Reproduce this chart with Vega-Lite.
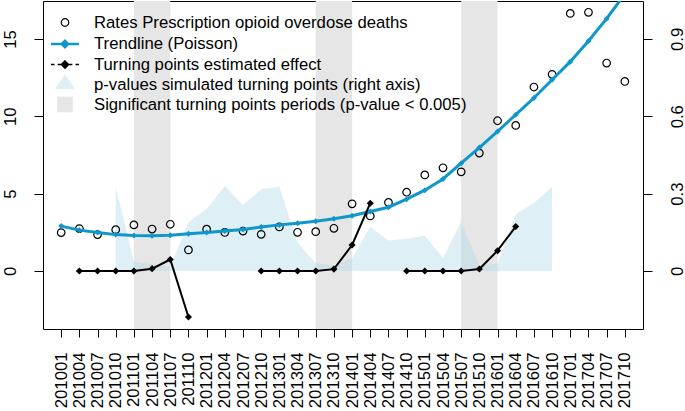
{
  "$schema": "https://vega.github.io/schema/vega-lite/v6.json",
  "width": 600,
  "height": 328,
  "autosize": "none",
  "padding": {"left": 43, "top": 1, "right": 42, "bottom": 82},
  "config": {
    "view": {"stroke": "#000", "strokeWidth": 1},
    "font": "Liberation Sans",
    "axis": {"grid": false, "domain": false, "tickColor": "#000", "labelColor": "#000", "labelFont": "Liberation Sans", "labelFontSize": 16.7, "tickSize": 9},
    "legend": {"title": null, "orient": "top-left", "offset": 10, "padding": 0, "symbolSize": 441, "labelFontSize": 16.7, "labelFont": "Liberation Sans", "labelColor": "#000", "labelOffset": 17, "labelLimit": 0, "rowPadding": 0}
  },
  "datasets": {
    "rates": [
      {"period": "201001", "rate": 2.48, "trend": 2.9},
      {"period": "201004", "rate": 2.74, "trend": 2.64},
      {"period": "201007", "rate": 2.35, "trend": 2.49},
      {"period": "201010", "rate": 2.67, "trend": 2.35},
      {"period": "201101", "rate": 2.98, "trend": 2.29},
      {"period": "201104", "rate": 2.71, "trend": 2.28},
      {"period": "201107", "rate": 3.02, "trend": 2.31},
      {"period": "201110", "rate": 1.36, "trend": 2.4},
      {"period": "201201", "rate": 2.7, "trend": 2.48},
      {"period": "201204", "rate": 2.49, "trend": 2.59},
      {"period": "201207", "rate": 2.58, "trend": 2.68},
      {"period": "201210", "rate": 2.37, "trend": 2.84},
      {"period": "201301", "rate": 2.85, "trend": 2.98},
      {"period": "201304", "rate": 2.5, "trend": 3.08},
      {"period": "201307", "rate": 2.54, "trend": 3.22},
      {"period": "201310", "rate": 2.76, "trend": 3.37},
      {"period": "201401", "rate": 4.34, "trend": 3.57},
      {"period": "201404", "rate": 3.56, "trend": 3.84},
      {"period": "201407", "rate": 4.43, "trend": 4.12},
      {"period": "201410", "rate": 5.09, "trend": 4.64},
      {"period": "201501", "rate": 6.21, "trend": 5.22},
      {"period": "201504", "rate": 6.67, "trend": 5.95},
      {"period": "201507", "rate": 6.41, "trend": 6.97},
      {"period": "201510", "rate": 7.62, "trend": 7.98},
      {"period": "201601", "rate": 9.71, "trend": 9.02},
      {"period": "201604", "rate": 9.41, "trend": 10.1},
      {"period": "201607", "rate": 11.89, "trend": 11.18},
      {"period": "201610", "rate": 12.71, "trend": 12.36},
      {"period": "201701", "rate": 16.65, "trend": 13.53},
      {"period": "201704", "rate": 16.72, "trend": 14.87},
      {"period": "201707", "rate": 13.44, "trend": 16.31},
      {"period": "201710", "rate": 12.25, "trend": 17.9}
    ],
    "effects": [
      {"period": "201004", "seg": 1, "effect": 0},
      {"period": "201007", "seg": 1, "effect": 0},
      {"period": "201010", "seg": 1, "effect": 0},
      {"period": "201101", "seg": 1, "effect": 0},
      {"period": "201104", "seg": 1, "effect": 0.15},
      {"period": "201107", "seg": 1, "effect": 0.74},
      {"period": "201110", "seg": 1, "effect": -2.97},
      {"period": "201210", "seg": 2, "effect": 0},
      {"period": "201301", "seg": 2, "effect": 0},
      {"period": "201304", "seg": 2, "effect": 0},
      {"period": "201307", "seg": 2, "effect": 0},
      {"period": "201310", "seg": 2, "effect": 0.12},
      {"period": "201401", "seg": 2, "effect": 1.68},
      {"period": "201404", "seg": 2, "effect": 4.38},
      {"period": "201410", "seg": 3, "effect": 0},
      {"period": "201501", "seg": 3, "effect": 0},
      {"period": "201504", "seg": 3, "effect": 0},
      {"period": "201507", "seg": 3, "effect": 0},
      {"period": "201510", "seg": 3, "effect": 0.13},
      {"period": "201601", "seg": 3, "effect": 1.31},
      {"period": "201604", "seg": 3, "effect": 2.87}
    ],
    "pvals": [
      {"period": "201010", "p": 0.327},
      {"period": "201101", "p": 0.036},
      {"period": "201104", "p": 0.025},
      {"period": "201107", "p": 0.015},
      {"period": "201110", "p": 0.19},
      {"period": "201201", "p": 0.24},
      {"period": "201204", "p": 0.33},
      {"period": "201207", "p": 0.256},
      {"period": "201210", "p": 0.317},
      {"period": "201301", "p": 0.327},
      {"period": "201304", "p": 0.11},
      {"period": "201307", "p": 0.03},
      {"period": "201310", "p": 0.02},
      {"period": "201401", "p": 0.049},
      {"period": "201404", "p": 0.172},
      {"period": "201407", "p": 0.118},
      {"period": "201410", "p": 0.125},
      {"period": "201501", "p": 0.137},
      {"period": "201504", "p": 0.05},
      {"period": "201507", "p": 0.191},
      {"period": "201510", "p": 0.02},
      {"period": "201601", "p": 0.028},
      {"period": "201604", "p": 0.22},
      {"period": "201607", "p": 0.264},
      {"period": "201610", "p": 0.327}
    ],
    "bands": [
      {"period": "201101", "end": "201107"},
      {"period": "201307", "end": "201401"},
      {"period": "201507", "end": "201601"}
    ]
  },
  "encoding": {
    "x": {
      "field": "period",
      "type": "ordinal",
      "title": null,
      "scale": {
        "type": "point",
        "padding": 1.23,
        "domain": ["201001","201004","201007","201010","201101","201104","201107","201110","201201","201204","201207","201210","201301","201304","201307","201310","201401","201404","201407","201410","201501","201504","201507","201510","201601","201604","201607","201610","201701","201704","201707","201710"]
      },
      "axis": {"labelAngle": -90, "tickSize": 8, "labelPadding": 15, "labelOverlap": false, "labelBound": false, "title": null}
    }
  },
  "layer": [
    {
      "data": {"name": "bands"},
      "mark": {"type": "rect", "color": "#E6E6E6"},
      "encoding": {"x2": {"field": "end"}}
    },
    {
      "data": {"name": "pvals"},
      "mark": {"type": "area", "color": "#ADD8E6", "opacity": 0.4},
      "encoding": {
        "y": {
          "field": "p",
          "type": "quantitative",
          "title": null,
          "scale": {"domain": [-0.225, 1.047], "zero": false, "nice": false},
          "axis": {"orient": "right", "values": [0, 0.3, 0.6, 0.9], "format": "~g", "labelAngle": -90, "labelAlign": "center", "labelBaseline": "alphabetic", "tickSize": 9, "labelPadding": 30, "title": null}
        },
        "y2": {"datum": 0}
      }
    },
    {
      "layer": [
        {
          "data": {"name": "rates"},
          "mark": {"type": "point", "filled": true, "size": 441, "opacity": 1},
          "encoding": {
            "y": {
              "field": "rate",
              "type": "quantitative",
              "title": null,
              "scale": {"domain": [-3.75, 17.45], "zero": false, "nice": false},
              "axis": {"orient": "left", "values": [0, 5, 10, 15], "labelAngle": -90, "labelAlign": "center", "labelBaseline": "alphabetic", "tickSize": 9, "labelPadding": 19, "title": null}
            },
            "shape": {
              "datum": "Rates Prescription opioid overdose deaths",
              "type": "nominal",
              "title": null,
              "scale": {
                "domain": ["Rates Prescription opioid overdose deaths", "Trendline (Poisson)", "Turning points estimated effect", "p-values simulated turning points (right axis)", "Significant turning points periods (p-value < 0.005)"],
                "range": [
                  "M-0.36,0A0.36,0.36,0,1,1,0.36,0A0.36,0.36,0,1,1,-0.36,0Z",
                  "M-1.33,0L1.33,0M0,-0.3L0.3,0L0,0.3L-0.3,0Z",
                  "M-1.33,0L-1,0M-0.7,0L-0.38,0M0.38,0L0.7,0M1,0L1.33,0M0,-0.34L0.34,0L0,0.34L-0.34,0Z",
                  "M0,-1L0.95,0.42L-0.95,0.42Z",
                  "M-0.74,-0.74L0.74,-0.74L0.74,0.74L-0.74,0.74Z"
                ]
              }
            },
            "fill": {
              "datum": "Rates Prescription opioid overdose deaths",
              "type": "nominal",
              "title": null,
              "scale": {
                "domain": ["Rates Prescription opioid overdose deaths", "Trendline (Poisson)", "Turning points estimated effect", "p-values simulated turning points (right axis)", "Significant turning points periods (p-value < 0.005)"],
                "range": ["transparent", "#0E97CB", "#000000", "#DEEFF5", "#E6E6E6"]
              }
            },
            "stroke": {
              "datum": "Rates Prescription opioid overdose deaths",
              "type": "nominal",
              "title": null,
              "scale": {
                "domain": ["Rates Prescription opioid overdose deaths", "Trendline (Poisson)", "Turning points estimated effect", "p-values simulated turning points (right axis)", "Significant turning points periods (p-value < 0.005)"],
                "range": ["#000000", "#0E97CB", "#000000", "transparent", "transparent"]
              }
            },
            "strokeWidth": {
              "datum": "Rates Prescription opioid overdose deaths",
              "type": "nominal",
              "title": null,
              "scale": {
                "type": "ordinal",
                "domain": ["Rates Prescription opioid overdose deaths", "Trendline (Poisson)", "Turning points estimated effect", "p-values simulated turning points (right axis)", "Significant turning points periods (p-value < 0.005)"],
                "range": [1.2, 2.5, 1.5, 0, 0]
              }
            }
          }
        },
        {
          "data": {"name": "rates"},
          "mark": {"type": "line", "color": "#0E97CB", "strokeWidth": 3, "clip": true},
          "encoding": {"y": {"field": "trend", "type": "quantitative", "title": null}}
        },
        {
          "data": {"name": "rates"},
          "mark": {"type": "point", "shape": "diamond", "filled": true, "color": "#0E97CB", "size": 36, "opacity": 1, "clip": true},
          "encoding": {"y": {"field": "trend", "type": "quantitative", "title": null}}
        },
        {
          "data": {"name": "effects"},
          "mark": {"type": "line", "color": "#000000", "strokeWidth": 2},
          "encoding": {"y": {"field": "effect", "type": "quantitative", "title": null}, "detail": {"field": "seg"}}
        },
        {
          "data": {"name": "effects"},
          "mark": {"type": "point", "shape": "diamond", "filled": true, "color": "#000000", "size": 50, "opacity": 1},
          "encoding": {"y": {"field": "effect", "type": "quantitative", "title": null}}
        }
      ]
    }
  ],
  "resolve": {"scale": {"y": "independent"}}
}
